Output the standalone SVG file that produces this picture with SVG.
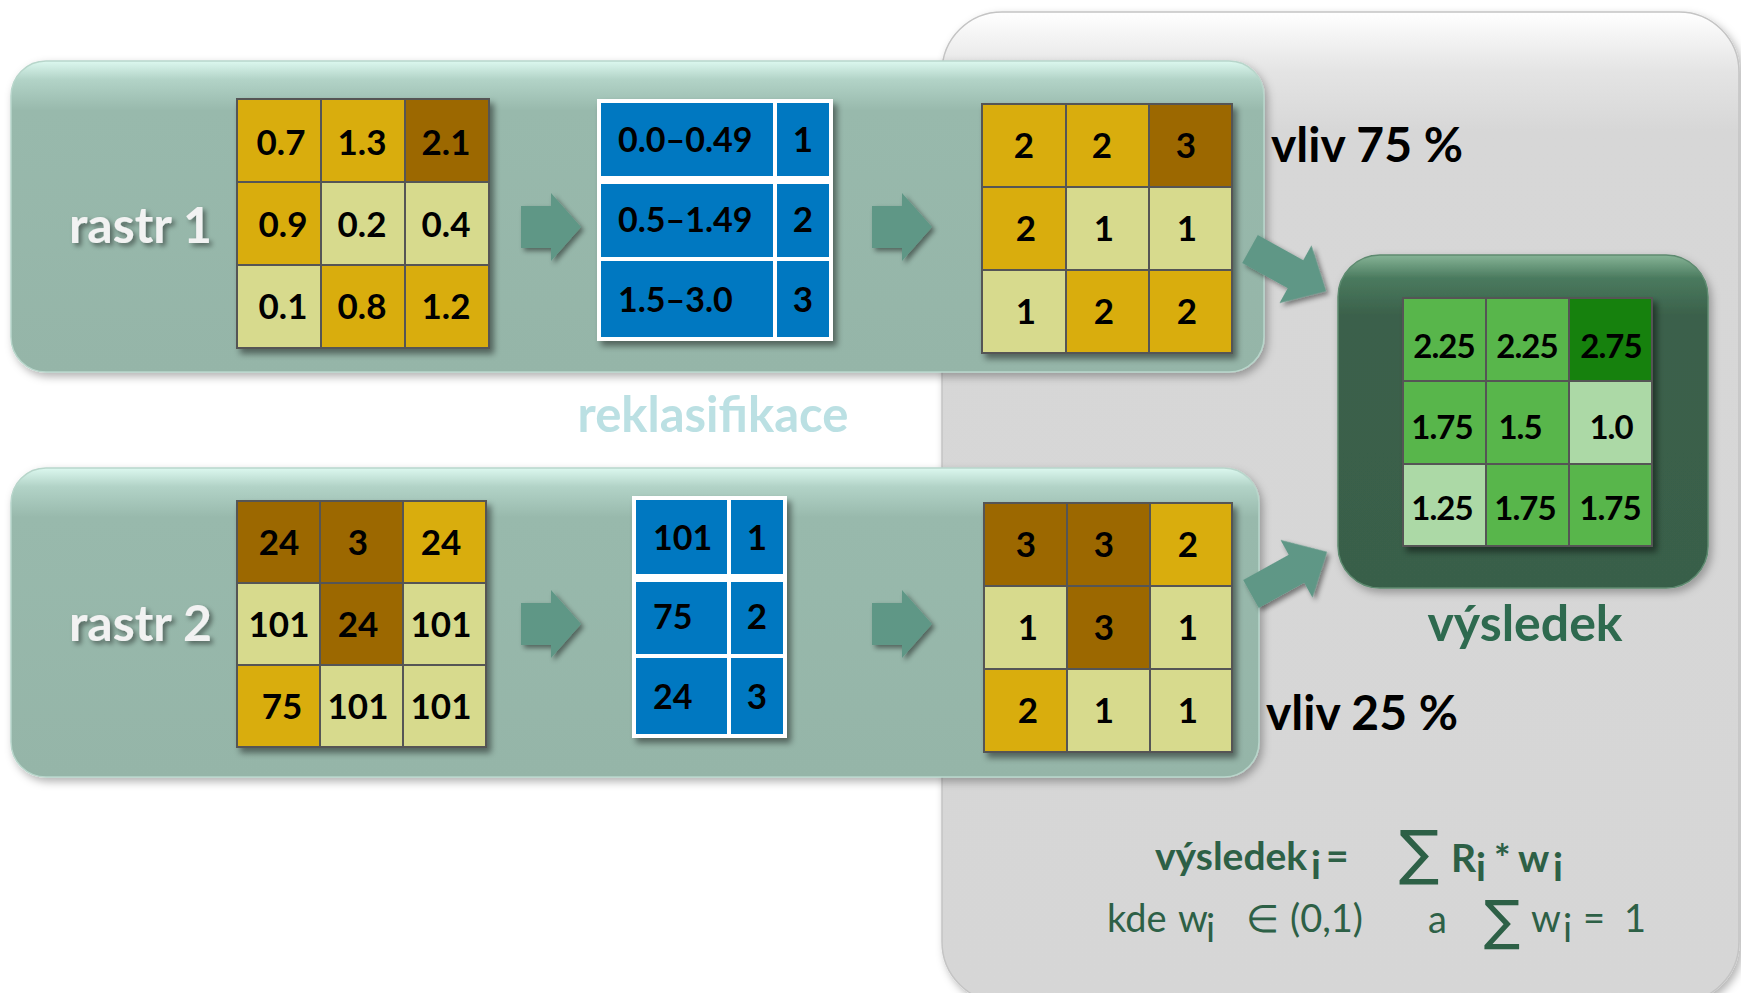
<svg xmlns="http://www.w3.org/2000/svg" width="1741" height="993" viewBox="0 0 1741 993">
<defs>
<linearGradient id="gGray" x1="0" y1="0" x2="0" y2="1">
<stop offset="0" stop-color="#ffffff"/><stop offset="0.06" stop-color="#e4e4e4"/><stop offset="0.12" stop-color="#d7d7d7"/><stop offset="1" stop-color="#d6d6d6"/>
</linearGradient>
<linearGradient id="gTeal" x1="0" y1="0" x2="0" y2="1">
<stop offset="0" stop-color="#dcf8ef"/><stop offset="0.06" stop-color="#b2d3c7"/><stop offset="0.16" stop-color="#98b9ac"/><stop offset="1" stop-color="#95b5a8"/>
</linearGradient>
<linearGradient id="gRes" x1="0" y1="0" x2="0" y2="1">
<stop offset="0" stop-color="#86b496"/><stop offset="0.07" stop-color="#4a7a5e"/><stop offset="0.18" stop-color="#3b614b"/><stop offset="1" stop-color="#395f4a"/>
</linearGradient>
<filter id="sh" x="-10%" y="-10%" width="125%" height="125%">
<feDropShadow dx="4" dy="5" stdDeviation="3" flood-color="#000" flood-opacity="0.45"/>
</filter>
<filter id="shp" x="-5%" y="-5%" width="112%" height="115%">
<feDropShadow dx="3" dy="4" stdDeviation="4" flood-color="#000" flood-opacity="0.3"/>
</filter>
<filter id="sht" x="-10%" y="-20%" width="130%" height="150%">
<feDropShadow dx="3" dy="3" stdDeviation="2.5" flood-color="#000" flood-opacity="0.45"/>
</filter>
<path id="arr" d="M0,-21 H30 V-34 L60,0 L30,34 V21 H0 Z"/>
<path id="darr" d="M0,-16 H52 V-33 L87,0 L52,33 V16 H0 Z"/>
</defs>
<style>
.c{stroke:#555;stroke-width:2}
.y{fill:#d9ad0b}.b{fill:#9c6801}.p{fill:#d7da8d}
.gm{fill:#58b64c}.gd{fill:#178110}.gl{fill:#acd9a6}
.bl{fill:#0078c1;stroke:#fff;stroke-width:4}
.v{font-family:Lato,"Open Sans",sans-serif;font-weight:700;font-size:35px;fill:#000;text-anchor:middle}
.t{font-family:Lato,"Open Sans",sans-serif;font-weight:700;font-size:34px;fill:#000}
.rv{font-family:Lato,"Open Sans",sans-serif;font-weight:700;font-size:33px;fill:#000;text-anchor:middle;letter-spacing:-1px}
.lbl{font-family:Lato,"Open Sans",sans-serif;font-weight:700;font-size:50px;fill:#f2f2f2}
.vl{font-family:Lato,"Open Sans",sans-serif;font-weight:700;font-size:48px;fill:#000}
.ar{fill:#5f9786}
.fb{font-family:Lato,"Open Sans",sans-serif;fill:#2d6046;font-weight:700;font-size:39px}
.fr{font-family:Lato,"Open Sans",sans-serif;fill:#2d6046;font-size:38px}
.sg{font-family:"DejaVu Sans",sans-serif;fill:#2d6046}
</style>
<rect width="1741" height="993" fill="#fff"/>

<g id="result-panel">
<rect x="942" y="12" width="797" height="990" rx="60" fill="url(#gGray)" stroke="#c4c4c4" stroke-width="1.5" filter="url(#shp)"/>
</g>

<g id="reklasifikace">
<text x="713" y="432" text-anchor="middle" font-family="Lato, 'Open Sans', sans-serif" font-weight="700" font-size="49" fill="#bbe0e3">reklasifikace</text>
</g>

<g id="panel-rastr1">
<rect x="11" y="61" width="1253" height="311" rx="35" fill="url(#gTeal)" stroke="#b8d6cb" stroke-width="1.5" filter="url(#shp)"/>
<text class="lbl" x="69" y="243" filter="url(#sht)">rastr 1</text>
</g>

<g id="panel-rastr2">
<rect x="11" y="468" width="1248" height="309" rx="35" fill="url(#gTeal)" stroke="#b8d6cb" stroke-width="1.5" filter="url(#shp)"/>
<text class="lbl" x="69" y="641" filter="url(#sht)">rastr 2</text>
</g>

<g id="grid-rastr1" filter="url(#sh)">
<rect class="c y" x="237" y="99" width="84" height="83"/><rect class="c y" x="321" y="99" width="84" height="83"/><rect class="c b" x="405" y="99" width="84" height="83"/>
<rect class="c y" x="237" y="182" width="84" height="83"/><rect class="c p" x="321" y="182" width="84" height="83"/><rect class="c p" x="405" y="182" width="84" height="83"/>
<rect class="c p" x="237" y="265" width="84" height="83"/><rect class="c y" x="321" y="265" width="84" height="83"/><rect class="c y" x="405" y="265" width="84" height="83"/>
</g>
<g id="grid-rastr1-text">
<text class="v" x="281" y="155">0.7</text><text class="v" x="362" y="155">1.3</text><text class="v" x="446" y="155">2.1</text>
<text class="v" x="283" y="237">0.9</text><text class="v" x="362" y="237">0.2</text><text class="v" x="446" y="237">0.4</text>
<text class="v" x="283" y="319">0.1</text><text class="v" x="362" y="319">0.8</text><text class="v" x="446" y="319">1.2</text>
</g>

<g id="table-rastr1" filter="url(#sh)">
<rect class="bl" x="599" y="101" width="176" height="77"/><rect class="bl" x="775" y="101" width="56" height="77"/>
<rect class="bl" x="599" y="182" width="176" height="77"/><rect class="bl" x="775" y="182" width="56" height="77"/>
<rect class="bl" x="599" y="259" width="176" height="80"/><rect class="bl" x="775" y="259" width="56" height="80"/>
</g>
<g id="table-rastr1-text">
<text class="t" x="618" y="152">0.0–0.49</text><text class="v" x="803" y="152">1</text>
<text class="t" x="618" y="232">0.5–1.49</text><text class="v" x="803" y="232">2</text>
<text class="t" x="618" y="312">1.5–3.0</text><text class="v" x="803" y="312">3</text>
</g>

<g id="grid-reclass1" filter="url(#sh)">
<rect class="c y" x="982" y="104" width="84" height="83"/><rect class="c y" x="1066" y="104" width="83" height="83"/><rect class="c b" x="1149" y="104" width="83" height="83"/>
<rect class="c y" x="982" y="187" width="84" height="83"/><rect class="c p" x="1066" y="187" width="83" height="83"/><rect class="c p" x="1149" y="187" width="83" height="83"/>
<rect class="c p" x="982" y="270" width="84" height="83"/><rect class="c y" x="1066" y="270" width="83" height="83"/><rect class="c y" x="1149" y="270" width="83" height="83"/>
</g>
<g id="grid-reclass1-text">
<text class="v" x="1024" y="158">2</text><text class="v" x="1102" y="158">2</text><text class="v" x="1186" y="158">3</text>
<text class="v" x="1026" y="241">2</text><text class="v" x="1104" y="241">1</text><text class="v" x="1187" y="241">1</text>
<text class="v" x="1026" y="324">1</text><text class="v" x="1104" y="324">2</text><text class="v" x="1187" y="324">2</text>
</g>

<g id="grid-rastr2" filter="url(#sh)">
<rect class="c b" x="237" y="501" width="83" height="82"/><rect class="c b" x="320" y="501" width="83" height="82"/><rect class="c y" x="403" y="501" width="83" height="82"/>
<rect class="c p" x="237" y="583" width="83" height="82"/><rect class="c b" x="320" y="583" width="83" height="82"/><rect class="c p" x="403" y="583" width="83" height="82"/>
<rect class="c y" x="237" y="665" width="83" height="82"/><rect class="c p" x="320" y="665" width="83" height="82"/><rect class="c p" x="403" y="665" width="83" height="82"/>
</g>
<g id="grid-rastr2-text">
<text class="v" x="279" y="555">24</text><text class="v" x="358" y="555">3</text><text class="v" x="441" y="555">24</text>
<text class="v" x="279" y="637">101</text><text class="v" x="358" y="637">24</text><text class="v" x="441" y="637">101</text>
<text class="v" x="282" y="719">75</text><text class="v" x="358" y="719">101</text><text class="v" x="441" y="719">101</text>
</g>

<g id="table-rastr2" filter="url(#sh)">
<rect class="bl" x="634" y="498" width="95" height="78"/><rect class="bl" x="729" y="498" width="56" height="78"/>
<rect class="bl" x="634" y="580" width="95" height="76"/><rect class="bl" x="729" y="580" width="56" height="76"/>
<rect class="bl" x="634" y="656" width="95" height="80"/><rect class="bl" x="729" y="656" width="56" height="80"/>
</g>
<g id="table-rastr2-text">
<text class="t" x="653" y="550">101</text><text class="v" x="757" y="550">1</text>
<text class="t" x="653" y="629">75</text><text class="v" x="757" y="629">2</text>
<text class="t" x="653" y="709">24</text><text class="v" x="757" y="709">3</text>
</g>

<g id="grid-reclass2" filter="url(#sh)">
<rect class="c b" x="984" y="503" width="83" height="83"/><rect class="c b" x="1067" y="503" width="83" height="83"/><rect class="c y" x="1150" y="503" width="82" height="83"/>
<rect class="c p" x="984" y="586" width="83" height="83"/><rect class="c b" x="1067" y="586" width="83" height="83"/><rect class="c p" x="1150" y="586" width="82" height="83"/>
<rect class="c y" x="984" y="669" width="83" height="83"/><rect class="c p" x="1067" y="669" width="83" height="83"/><rect class="c p" x="1150" y="669" width="82" height="83"/>
</g>
<g id="grid-reclass2-text">
<text class="v" x="1026" y="557">3</text><text class="v" x="1104" y="557">3</text><text class="v" x="1188" y="557">2</text>
<text class="v" x="1028" y="640">1</text><text class="v" x="1104" y="640">3</text><text class="v" x="1188" y="640">1</text>
<text class="v" x="1028" y="723">2</text><text class="v" x="1104" y="723">1</text><text class="v" x="1188" y="723">1</text>
</g>

<g id="result-box">
<rect x="1338" y="255" width="370" height="333" rx="42" fill="url(#gRes)" stroke="#5d8a6f" stroke-width="1.5" filter="url(#shp)"/>
<g filter="url(#sh)">
<rect class="c gm" x="1403" y="298" width="83" height="83"/><rect class="c gm" x="1486" y="298" width="83" height="83"/><rect class="c gd" x="1569" y="298" width="83" height="83"/>
<rect class="c gm" x="1403" y="381" width="83" height="83"/><rect class="c gm" x="1486" y="381" width="83" height="83"/><rect class="c gl" x="1569" y="381" width="83" height="83"/>
<rect class="c gl" x="1403" y="464" width="83" height="82"/><rect class="c gm" x="1486" y="464" width="83" height="82"/><rect class="c gm" x="1569" y="464" width="83" height="82"/>
</g>
<text class="rv" x="1444" y="358">2.25</text><text class="rv" x="1527" y="358">2.25</text><text class="rv" x="1611" y="358">2.75</text>
<text class="rv" x="1442" y="439">1.75</text><text class="rv" x="1520" y="439">1.5</text><text class="rv" x="1611" y="439">1.0</text>
<text class="rv" x="1442" y="520">1.25</text><text class="rv" x="1525" y="520">1.75</text><text class="rv" x="1610" y="520">1.75</text>
<text x="1525" y="641" text-anchor="middle" font-family="Lato, 'Open Sans', sans-serif" font-weight="700" font-size="50" fill="#2e6a4f">výsledek</text>
</g>

<g id="weights">
<text class="vl" x="1271" y="162">vliv 75 %</text>
<text class="vl" x="1266" y="730">vliv 25 %</text>
</g>

<g id="connectors" class="ar" filter="url(#sht)">
<use href="#arr" x="521" y="227"/>
<use href="#arr" x="872" y="227"/>
<use href="#arr" x="521" y="624"/>
<use href="#arr" x="872" y="624"/>
<use href="#darr" transform="translate(1250,249) rotate(29)"/>
<use href="#darr" transform="translate(1251,594) rotate(-29)"/>
</g>

<g id="formula">
<text class="fb" x="1155" y="870">výsledek</text>
<text class="fb" x="1311" y="879" font-size="24">i</text>
<text class="fb" x="1326" y="870">=</text>
<text class="sg" x="1399" y="873" font-size="60">∑</text>
<text class="fb" x="1451" y="872">R</text>
<text class="fb" x="1476" y="881" font-size="24">i</text>
<text class="fb" x="1494" y="872">*</text>
<text class="fb" x="1518" y="872">w</text>
<text class="fb" x="1553" y="881" font-size="24">i</text>
<text class="fr" x="1107" y="932">kde</text>
<text class="fr" x="1178" y="932">w</text>
<text class="fr" x="1206" y="942" font-size="25">i</text>
<text class="fr" x="1246" y="932">∈</text>
<text class="fr" x="1290" y="932">(0,1)</text>
<text class="fr" x="1428" y="933">a</text>
<text class="sg" x="1484" y="939" font-size="54">∑</text>
<text class="fr" x="1531" y="932">w</text>
<text class="fr" x="1563" y="942" font-size="25">i</text>
<text class="fr" x="1583" y="932">=</text>
<text class="fr" x="1624" y="932">1</text>
</g>
</svg>
